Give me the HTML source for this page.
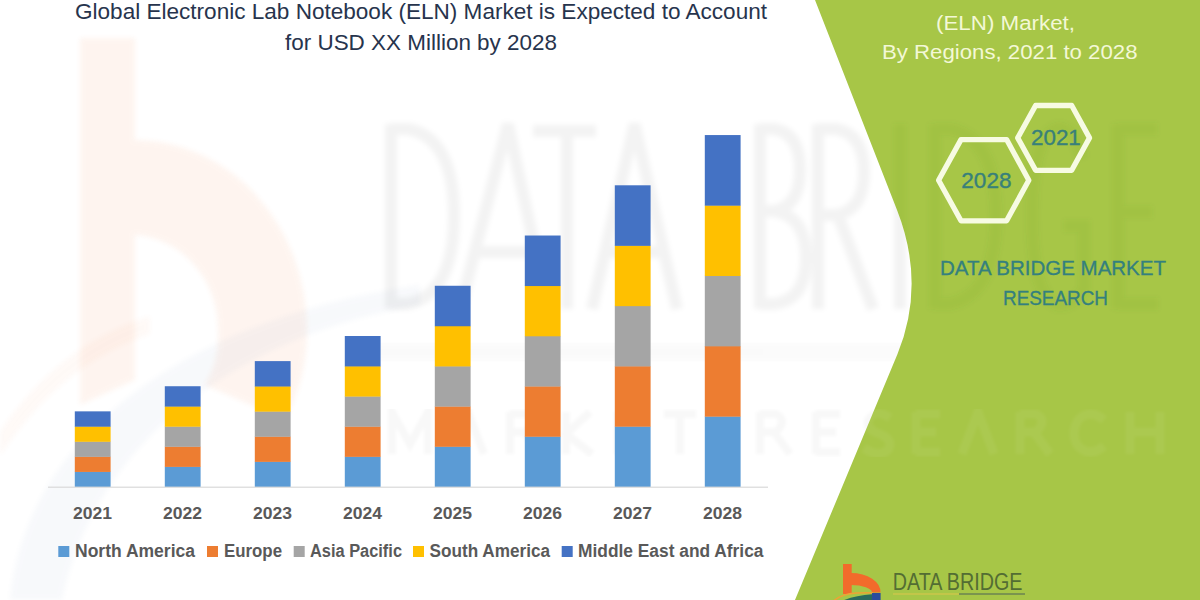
<!DOCTYPE html>
<html>
<head>
<meta charset="utf-8">
<title>Global Electronic Lab Notebook (ELN) Market</title>
<style>
  html, body { margin: 0; padding: 0; background: #ffffff; }
  body { width: 1200px; height: 600px; overflow: hidden; font-family: "Liberation Sans", sans-serif; }
  svg { display: block; }
  text { font-family: "Liberation Sans", sans-serif; }
</style>
</head>
<body>
<svg width="1200" height="600" viewBox="0 0 1200 600">
  <defs>
    <clipPath id="greenclip"><path d="M815,0 L897,210 Q926,284 897.5,354 L795,600 L1200,600 L1200,0 Z"/></clipPath>
    <clipPath id="whiteclip"><path d="M0,0 L815,0 L897,210 Q926,284 897.5,354 L795,600 L0,600 Z"/></clipPath>
    <filter id="soft" x="-5%" y="-5%" width="110%" height="110%"><feGaussianBlur stdDeviation="1.6"/></filter>
    <filter id="soft2" x="-5%" y="-5%" width="110%" height="110%"><feGaussianBlur stdDeviation="2.5"/></filter>
  </defs>

  <rect x="0" y="0" width="1200" height="600" fill="#ffffff"/>

  <!-- faint background watermark: big "b" logo -->
  <g opacity="0.075" filter="url(#soft2)">
    <path fill="#F47B3A" d="M80,38 L135,38 L135,140 A172,190 0 0 1 307,330 A190,190 0 0 1 285,420 L205,385 A95,95 0 0 0 218,330 A88,95 0 0 0 135,235 L135,380 L80,405 Z"/>
  </g>
  <g opacity="0.045" filter="url(#soft2)">
    <path fill="#5B7FB5" d="M10,600 C25,440 180,320 420,285 L420,305 C240,335 95,440 62,600 Z"/>
  </g>
  <g opacity="0.04" filter="url(#soft2)">
    <path fill="#F47B3A" d="M0,432 C40,372 90,335 150,316 L150,334 C92,354 42,392 0,456 Z"/>
  </g>

  <!-- faint "DATA BRIDGE" watermark text -->
  <g clip-path="url(#whiteclip)">
    <g fill="none" stroke="#000000" stroke-opacity="0.047" stroke-width="12" filter="url(#soft2)">
    <path d="M391,124 L391,309 M391,129 L408,129 Q454,138 454,216 Q454,294 408,304 L391,304"/>
    <path d="M460,309 L508,124 L548,309 M474,252 L536,252"/>
    <path d="M533,131 L596,131 M567,131 L567,309"/>
    <path d="M592,309 L634.5,124 L677,309 M605,252 L664,252"/>
    <path d="M760,124 L760,309 M760,129 L774,129 Q800,133 800,170 Q800,206 774,211 L760,211 M774,211 Q806,216 806,258 Q806,300 774,304 L760,304"/>
    <path d="M818,124 L818,309 M818,129 L836,129 Q864,134 864,172 Q864,210 836,215 L818,215 M838,215 L873,309"/>
    <path d="M900,124 L900,309"/>
    <path d="M935,124 L935,309 M935,129 L950,129 Q996,138 996,216 Q996,294 950,304 L935,304"/>
    <path d="M1082,158 Q1074,128 1058,128 Q1032,134 1032,216 Q1032,298 1058,305 Q1076,305 1084,288 L1084,226 L1064,226"/>
    <path d="M1118,124 L1118,309 M1118,129 L1157,129 M1118,212 L1152,212 M1118,304 L1158,304"/>
    </g>
    <rect x="360" y="343" width="840" height="18" fill="#888888" opacity="0.03" filter="url(#soft2)"/>
    <g fill="none" stroke="#000000" stroke-opacity="0.028" stroke-width="8" filter="url(#soft)">
    <path d="M392,454 L392,412 L410,444 L428,412 L428,454"/>
    <path d="M452,454 L468,412 L484,454"/>
    <path d="M510,412 L510,454 M510,414 L526,414 Q538,420 526,432 L510,432 M524,432 L540,454"/>
    <path d="M566,412 L566,454 M590,412 L566,434 L592,454"/>
    <path d="M618,412 L618,454 M618,414 L642,414 M618,432 L638,432 M618,452 L642,452"/>
    <path d="M664,414 L696,414 M680,414 L680,454"/>
    <path d="M760,412 L760,454 M760,414 L776,414 Q788,420 776,432 L760,432 M774,432 L790,454"/>
    <path d="M816,412 L816,454 M816,414 L840,414 M816,432 L836,432 M816,452 L840,452"/>
    <path d="M890,418 Q876,408 868,420 Q866,430 880,434 Q894,440 888,450 Q878,458 864,448"/>
    <path d="M916,412 L916,454 M916,414 L940,414 M916,432 L936,432 M916,452 L940,452"/>
    <path d="M962,454 L978,412 L994,454"/>
    <path d="M1020,412 L1020,454 M1020,414 L1036,414 Q1048,420 1036,432 L1020,432 M1034,432 L1050,454"/>
    <path d="M1104,420 Q1090,408 1078,420 Q1070,434 1078,446 Q1090,458 1104,446"/>
    <path d="M1130,412 L1130,454 M1160,412 L1160,454 M1130,432 L1160,432"/>
    </g>
  </g>

  <!-- green panel -->
  <path d="M815,0 L897,210 Q926,284 897.5,354 L795,600 L1200,600 L1200,0 Z" fill="#A7C647"/>
  <g clip-path="url(#greenclip)">
    <g fill="none" stroke="#4E6F12" stroke-opacity="0.06" stroke-width="12" filter="url(#soft2)">
    <path d="M391,124 L391,309 M391,129 L408,129 Q454,138 454,216 Q454,294 408,304 L391,304"/>
    <path d="M460,309 L508,124 L548,309 M474,252 L536,252"/>
    <path d="M533,131 L596,131 M567,131 L567,309"/>
    <path d="M592,309 L634.5,124 L677,309 M605,252 L664,252"/>
    <path d="M760,124 L760,309 M760,129 L774,129 Q800,133 800,170 Q800,206 774,211 L760,211 M774,211 Q806,216 806,258 Q806,300 774,304 L760,304"/>
    <path d="M818,124 L818,309 M818,129 L836,129 Q864,134 864,172 Q864,210 836,215 L818,215 M838,215 L873,309"/>
    <path d="M900,124 L900,309"/>
    <path d="M935,124 L935,309 M935,129 L950,129 Q996,138 996,216 Q996,294 950,304 L935,304"/>
    <path d="M1082,158 Q1074,128 1058,128 Q1032,134 1032,216 Q1032,298 1058,305 Q1076,305 1084,288 L1084,226 L1064,226"/>
    <path d="M1118,124 L1118,309 M1118,129 L1157,129 M1118,212 L1152,212 M1118,304 L1158,304"/>
    </g>
    <g fill="none" stroke="#FFFFFF" stroke-opacity="0.05" stroke-width="9" filter="url(#soft)">
    <path d="M392,454 L392,412 L410,444 L428,412 L428,454"/>
    <path d="M452,454 L468,412 L484,454"/>
    <path d="M510,412 L510,454 M510,414 L526,414 Q538,420 526,432 L510,432 M524,432 L540,454"/>
    <path d="M566,412 L566,454 M590,412 L566,434 L592,454"/>
    <path d="M618,412 L618,454 M618,414 L642,414 M618,432 L638,432 M618,452 L642,452"/>
    <path d="M664,414 L696,414 M680,414 L680,454"/>
    <path d="M760,412 L760,454 M760,414 L776,414 Q788,420 776,432 L760,432 M774,432 L790,454"/>
    <path d="M816,412 L816,454 M816,414 L840,414 M816,432 L836,432 M816,452 L840,452"/>
    <path d="M890,418 Q876,408 868,420 Q866,430 880,434 Q894,440 888,450 Q878,458 864,448"/>
    <path d="M916,412 L916,454 M916,414 L940,414 M916,432 L936,432 M916,452 L940,452"/>
    <path d="M962,454 L978,412 L994,454"/>
    <path d="M1020,412 L1020,454 M1020,414 L1036,414 Q1048,420 1036,432 L1020,432 M1034,432 L1050,454"/>
    <path d="M1104,420 Q1090,408 1078,420 Q1070,434 1078,446 Q1090,458 1104,446"/>
    <path d="M1130,412 L1130,454 M1160,412 L1160,454 M1130,432 L1160,432"/>
    </g>
  </g>

  <!-- title -->
  <g fill="#27344D" font-size="21.8">
    <text x="75" y="19.2" textLength="692" lengthAdjust="spacingAndGlyphs">Global Electronic Lab Notebook (ELN) Market is Expected to Account</text>
    <text x="285" y="49.7" textLength="272" lengthAdjust="spacingAndGlyphs">for USD XX Million by 2028</text>
  </g>

  <!-- chart bars -->
  <g id="bars">
    <rect x="74.80" y="471.63" width="35.8" height="15.37" fill="#5B9BD5"/>
    <rect x="74.80" y="456.56" width="35.8" height="15.37" fill="#ED7D31"/>
    <rect x="74.80" y="441.49" width="35.8" height="15.37" fill="#A5A5A5"/>
    <rect x="74.80" y="426.42" width="35.8" height="15.37" fill="#FFC000"/>
    <rect x="74.80" y="411.35" width="35.8" height="15.37" fill="#4472C4"/>
    <rect x="164.80" y="466.61" width="35.8" height="20.39" fill="#5B9BD5"/>
    <rect x="164.80" y="446.51" width="35.8" height="20.39" fill="#ED7D31"/>
    <rect x="164.80" y="426.42" width="35.8" height="20.39" fill="#A5A5A5"/>
    <rect x="164.80" y="406.32" width="35.8" height="20.39" fill="#FFC000"/>
    <rect x="164.80" y="386.23" width="35.8" height="20.39" fill="#4472C4"/>
    <rect x="254.80" y="461.58" width="35.8" height="25.42" fill="#5B9BD5"/>
    <rect x="254.80" y="436.46" width="35.8" height="25.42" fill="#ED7D31"/>
    <rect x="254.80" y="411.35" width="35.8" height="25.42" fill="#A5A5A5"/>
    <rect x="254.80" y="386.23" width="35.8" height="25.42" fill="#FFC000"/>
    <rect x="254.80" y="361.11" width="35.8" height="25.42" fill="#4472C4"/>
    <rect x="344.80" y="456.56" width="35.8" height="30.44" fill="#5B9BD5"/>
    <rect x="344.80" y="426.42" width="35.8" height="30.44" fill="#ED7D31"/>
    <rect x="344.80" y="396.28" width="35.8" height="30.44" fill="#A5A5A5"/>
    <rect x="344.80" y="366.14" width="35.8" height="30.44" fill="#FFC000"/>
    <rect x="344.80" y="336.00" width="35.8" height="30.44" fill="#4472C4"/>
    <rect x="434.80" y="446.51" width="35.8" height="40.49" fill="#5B9BD5"/>
    <rect x="434.80" y="406.32" width="35.8" height="40.49" fill="#ED7D31"/>
    <rect x="434.80" y="366.14" width="35.8" height="40.49" fill="#A5A5A5"/>
    <rect x="434.80" y="325.95" width="35.8" height="40.49" fill="#FFC000"/>
    <rect x="434.80" y="285.76" width="35.8" height="40.49" fill="#4472C4"/>
    <rect x="524.80" y="436.46" width="35.8" height="50.53" fill="#5B9BD5"/>
    <rect x="524.80" y="386.23" width="35.8" height="50.53" fill="#ED7D31"/>
    <rect x="524.80" y="336.00" width="35.8" height="50.53" fill="#A5A5A5"/>
    <rect x="524.80" y="285.76" width="35.8" height="50.53" fill="#FFC000"/>
    <rect x="524.80" y="235.52" width="35.8" height="50.53" fill="#4472C4"/>
    <rect x="614.80" y="426.42" width="35.8" height="60.58" fill="#5B9BD5"/>
    <rect x="614.80" y="366.14" width="35.8" height="60.58" fill="#ED7D31"/>
    <rect x="614.80" y="305.85" width="35.8" height="60.58" fill="#A5A5A5"/>
    <rect x="614.80" y="245.57" width="35.8" height="60.58" fill="#FFC000"/>
    <rect x="614.80" y="185.29" width="35.8" height="60.58" fill="#4472C4"/>
    <rect x="704.80" y="416.37" width="35.8" height="70.63" fill="#5B9BD5"/>
    <rect x="704.80" y="346.04" width="35.8" height="70.63" fill="#ED7D31"/>
    <rect x="704.80" y="275.71" width="35.8" height="70.63" fill="#A5A5A5"/>
    <rect x="704.80" y="205.38" width="35.8" height="70.63" fill="#FFC000"/>
    <rect x="704.80" y="135.06" width="35.8" height="70.63" fill="#4472C4"/>
  </g>
  <rect x="48" y="486.6" width="720" height="1.2" fill="#D9D9D9"/>

  <!-- year labels -->
  <g fill="#595959" font-size="17.4" font-weight="bold" text-anchor="middle">
    <text x="92.5" y="518.7" textLength="39" lengthAdjust="spacingAndGlyphs">2021</text>
    <text x="182.5" y="518.7" textLength="39" lengthAdjust="spacingAndGlyphs">2022</text>
    <text x="272.5" y="518.7" textLength="39" lengthAdjust="spacingAndGlyphs">2023</text>
    <text x="362.5" y="518.7" textLength="39" lengthAdjust="spacingAndGlyphs">2024</text>
    <text x="452.5" y="518.7" textLength="39" lengthAdjust="spacingAndGlyphs">2025</text>
    <text x="542.5" y="518.7" textLength="39" lengthAdjust="spacingAndGlyphs">2026</text>
    <text x="632.5" y="518.7" textLength="39" lengthAdjust="spacingAndGlyphs">2027</text>
    <text x="722.5" y="518.7" textLength="39" lengthAdjust="spacingAndGlyphs">2028</text>
  </g>

  <!-- legend -->
  <g id="legend">
    <rect x="58.3" y="546" width="11" height="11" fill="#5B9BD5"/>
    <rect x="207" y="546" width="11" height="11" fill="#ED7D31"/>
    <rect x="293.7" y="546" width="11" height="11" fill="#A5A5A5"/>
    <rect x="413" y="546" width="11" height="11" fill="#FFC000"/>
    <rect x="561.7" y="546" width="11" height="11" fill="#4472C4"/>
    <g fill="#595959" font-size="17.6" font-weight="bold">
      <text x="75" y="556.7" textLength="120" lengthAdjust="spacingAndGlyphs">North America</text>
      <text x="224" y="556.7" textLength="58" lengthAdjust="spacingAndGlyphs">Europe</text>
      <text x="310" y="556.7" textLength="92" lengthAdjust="spacingAndGlyphs">Asia Pacific</text>
      <text x="429.5" y="556.7" textLength="120.5" lengthAdjust="spacingAndGlyphs">South America</text>
      <text x="578" y="556.7" textLength="185.5" lengthAdjust="spacingAndGlyphs">Middle East and Africa</text>
    </g>
  </g>

  <!-- green panel text -->
  <g fill="#F3F8D6" font-size="20">
    <text x="936" y="29.5" textLength="139" lengthAdjust="spacingAndGlyphs">(ELN) Market,</text>
    <text x="882" y="59" textLength="255.5" lengthAdjust="spacingAndGlyphs">By Regions, 2021 to 2028</text>
  </g>

  <!-- hexagons -->
  <g fill="none" stroke="#F7FBE3" stroke-width="5.3" stroke-linejoin="round">
    <path d="M938.6,180.2 L961,139.6 L1006.6,139.6 L1028.8,180.2 L1006.6,220.8 L961,220.8 Z"/>
    <path d="M1017.7,137.9 L1035.6,105.5 L1071.7,105.5 L1089.5,137.9 L1071.7,170.3 L1035.6,170.3 Z"/>
  </g>
  <g fill="#38807A" stroke="#38807A" stroke-width="0.35" font-size="22.3">
    <text x="961.3" y="187.9" textLength="50.2" lengthAdjust="spacingAndGlyphs">2028</text>
    <text x="1031" y="144.8" textLength="49.8" lengthAdjust="spacingAndGlyphs">2021</text>
  </g>

  <!-- DATA BRIDGE MARKET RESEARCH -->
  <g fill="#34807E" stroke="#34807E" stroke-width="0.3" font-size="21">
    <text x="940" y="275" textLength="226" lengthAdjust="spacingAndGlyphs">DATA BRIDGE MARKET</text>
    <text x="1003" y="304.6" textLength="105" lengthAdjust="spacingAndGlyphs">RESEARCH</text>
  </g>

  <!-- bottom logo -->
  <g id="logo">
    <rect x="843" y="564" width="8.7" height="30" fill="#F26B2B"/>
    <path d="M851,573 A29.5,19 0 0 1 880.5,592.5 L872,592.5 A21,7.6 0 0 0 851,584.9 Z" fill="#F26B2B"/>
    <path d="M843,600.5 Q856,595.2 872,594.2 L872,600.5 Z" fill="#2B6B5C"/>
    <path d="M834,600.5 Q842,594 856,593 L873,592.8" stroke="#EFA235" stroke-width="1.6" fill="none"/>
    <rect x="872" y="593" width="8.6" height="8" fill="#2C4C9C"/>
    <text x="892.8" y="590" font-size="23.5" fill="#536D33" textLength="129.7" lengthAdjust="spacingAndGlyphs">DATA BRIDGE</text>
    <rect x="893" y="593.2" width="66" height="1.6" fill="#C9C64A"/>
    <rect x="959" y="593.2" width="66" height="1.6" fill="#6F8850"/>
    <text x="894" y="610.5" font-size="14" fill="#C9C64A" textLength="128" lengthAdjust="spacingAndGlyphs" opacity="0.8">MARKET RESEARCH</text>
  </g>
</svg>
</body>
</html>
